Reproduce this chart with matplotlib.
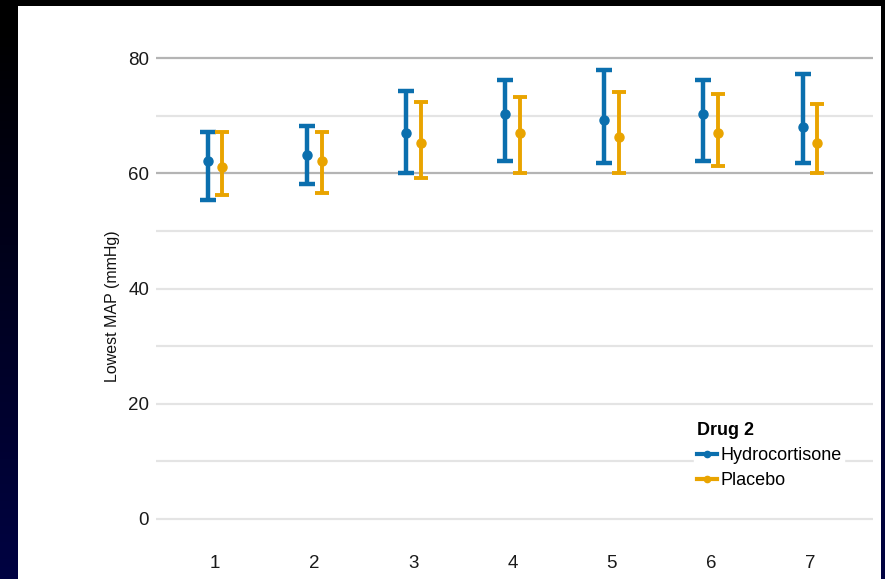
import numpy as np
import matplotlib.pyplot as plt
from matplotlib.patches import Rectangle
from matplotlib.lines import Line2D

# lowest MAP per day, mean with lower / upper bounds
days = [1, 2, 3, 4, 5, 6, 7]
hydro_mean = [62.1, 63.2, 67.0, 70.3, 69.2, 70.3, 68.1]
hydro_low = [55.4, 58.1, 60.1, 62.1, 61.7, 62.1, 61.7]
hydro_high = [67.1, 68.2, 74.3, 76.2, 78.0, 76.2, 77.2]
placebo_mean = [61.1, 62.1, 65.2, 67.0, 66.3, 67.0, 65.2]
placebo_low = [56.2, 56.5, 59.1, 60.1, 60.1, 61.2, 60.1]
placebo_high = [67.2, 67.2, 72.4, 73.2, 74.1, 73.7, 72.0]
y_ticks = [0, 20, 40, 60, 80]

blue = "#0b6fae"
orange = "#e9a400"
W, H = 885, 579

fig = plt.figure(figsize=(W / 100, H / 100), dpi=100)

# slide background: black to dark navy
bg = fig.add_axes([0, 0, 1, 1])
grad = np.linspace(0, 1, 256).reshape(-1, 1)
grad = np.clip((grad - 0.05) / 0.95, 0, 1)
rgb = np.zeros((256, 1, 3))
rgb[:, 0, 2] = grad[:, 0] * 0.26
rgb[:, 0, 1] = grad[:, 0] * 0.01
bg.imshow(rgb, aspect="auto", extent=[0, 1, 0, 1])
bg.add_patch(Rectangle((18 / W, 0), (881 - 18) / W, 1 - 5.5 / H,
                       facecolor="white", edgecolor="none"))
bg.set_xlim(0, 1)
bg.set_ylim(0, 1)
bg.axis("off")

ax = fig.add_axes([156 / W, 1 - 542 / H, (873 - 156) / W, (542 - 35) / H])
ax.set_facecolor("none")
for s in ax.spines.values():
    s.set_visible(False)

# gridlines: major every 20, minor every 10
for v in range(0, 81, 10):
    col = "#b4b4b4" if v in (60, 80) else "#e4e4e4"
    ax.axhline(v, color=col, lw=1.6, zorder=0)

x = np.array(days)
off = 0.075
hm = np.array(hydro_mean)
pm = np.array(placebo_mean)
ax.errorbar(x - off, hm, yerr=[hm - np.array(hydro_low), np.array(hydro_high) - hm],
            fmt="o", color=blue, ms=6.5, elinewidth=3.2, capsize=5.5, capthick=3.2,
            zorder=3)
ax.errorbar(x + off, pm, yerr=[pm - np.array(placebo_low), np.array(placebo_high) - pm],
            fmt="o", color=orange, ms=6.5, elinewidth=2.8, capsize=5, capthick=2.8,
            zorder=3)

ax.set_xlim(0.405, 7.635)
ax.set_ylim(-4, 84)
ax.set_xticks(days)
ax.set_yticks(y_ticks)
tick_font = ["Liberation Sans", "DejaVu Sans"]
ax.set_xticklabels([str(d) for d in days], family=tick_font, fontsize=13.5, color="#1a1a1a")
ax.set_yticklabels([str(v) for v in y_ticks], family=tick_font, fontsize=13.5, color="#1a1a1a")
ax.tick_params(length=0)
ax.tick_params(axis="y", pad=5)
ax.tick_params(axis="x", pad=9)

fig.text(112 / W, 1 - 306 / H, "Lowest MAP (mmHg)", rotation=90, ha="center", va="center",
         family=tick_font, fontsize=11.5, color="#111111")

handles = [Line2D([], [], color=blue, lw=3, marker="o", ms=4.5),
           Line2D([], [], color=orange, lw=3, marker="o", ms=4.5)]
leg = ax.legend(handles, ["Hydrocortisone", "Placebo"],
                loc="upper left", bbox_to_anchor=((694 - 156) / (873 - 156), (542 - 419) / (542 - 35)),
                title="Drug 2", frameon=True, framealpha=1, edgecolor="white", facecolor="white",
                prop={"family": tick_font, "size": 13}, handlelength=1.1, handletextpad=0.2,
                borderpad=0.15, labelspacing=0.45, alignment="left", borderaxespad=0)
leg.get_title().set_fontweight("bold")
leg.get_title().set_family(tick_font)
leg.get_title().set_fontsize(13)

fig.savefig("out.png", dpi=100)
